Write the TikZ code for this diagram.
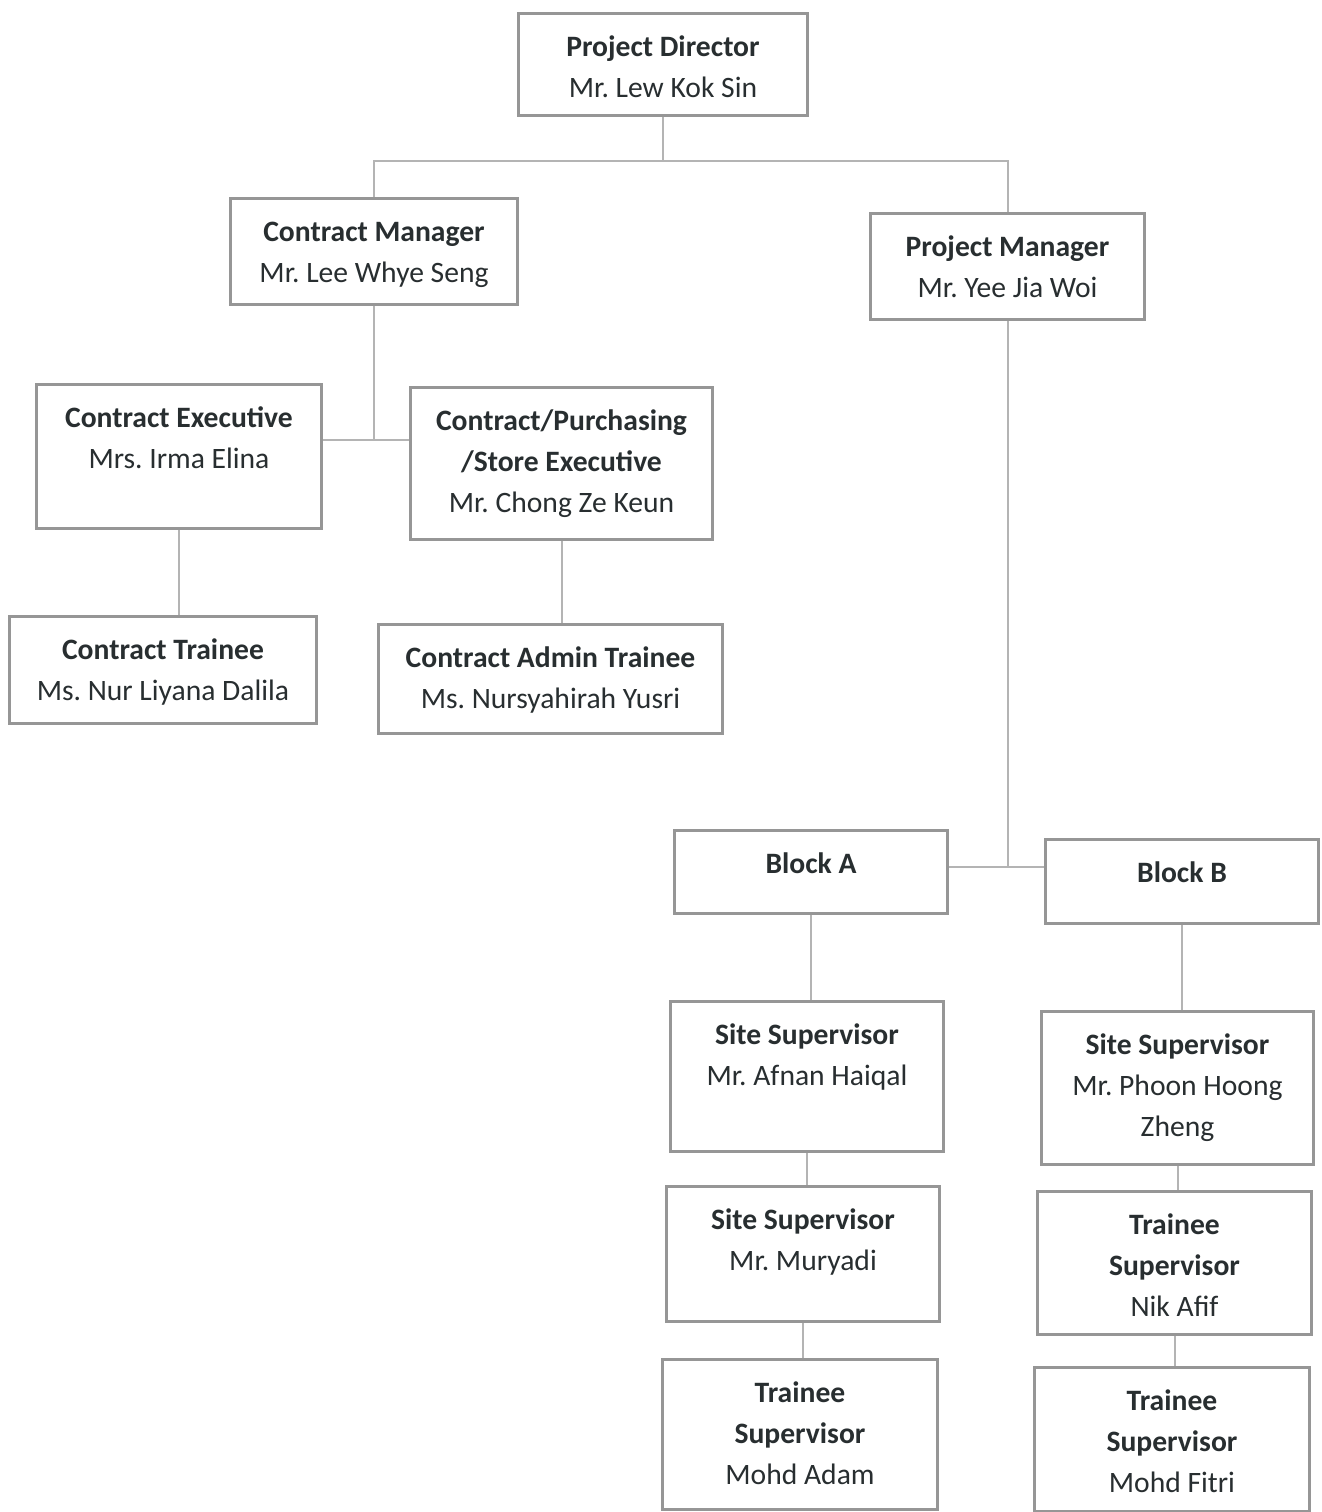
\documentclass[tikz,border=0pt]{standalone}
\usepackage{fontspec}
\setmainfont{Carlito}
\frenchspacing
\definecolor{txt}{RGB}{40,46,48}
\definecolor{bord}{RGB}{150,150,150}
\definecolor{conn}{RGB}{180,180,180}
\tikzset{
  obox/.style={draw=bord, line width=1.5pt, inner sep=0pt, anchor=north west, text=txt,
    font=\fontsize{14.8}{20.5}\selectfont\frenchspacing},
  link/.style={draw=conn, line width=1pt}
}
\newcommand\ob[6]{\node[obox] (#1) at (#2,#3) {\parbox[t][#5pt][t]{#4pt}{\centering\rule{0pt}{21.5pt}#6}};}
\begin{document}
\begin{tikzpicture}[x=0.5pt,y=-0.5pt]
\useasboundingbox[fill=white] (0,0) rectangle (1322,1512);
\ob{PD}{517}{12}{144.5}{51}{\textbf{Project Director}\\Mr. Lew Kok Sin}
\ob{CM}{229}{197}{143.5}{53}{\textbf{Contract Manager}\\Mr. Lee Whye Seng}
\ob{PM}{869}{212}{137}{53}{\textbf{Project Manager}\\Mr. Yee Jia Woi}
\ob{CE}{35}{383}{142.5}{72}{\textbf{Contract Executive}\\Mrs. Irma Elina}
\ob{CP}{409}{386}{151}{76}{\textbf{Contract/Purchasing}\\\textbf{/Store Executive}\\Mr. Chong Ze Keun}
\ob{CT}{8}{615}{153.5}{53.5}{\textbf{Contract Trainee}\\Ms. Nur Liyana Dalila}
\ob{CA}{377}{623}{172}{54.5}{\textbf{Contract Admin Trainee}\\Ms. Nursyahirah Yusri}
\ob{BA}{673}{829}{136.5}{41.5}{\textbf{Block A}}
\ob{BB}{1044}{838}{136.5}{42}{\textbf{Block B}}
\ob{A1}{669}{1000}{136.5}{75}{\textbf{Site Supervisor}\\Mr. Afnan Haiqal}
\ob{A2}{665}{1185}{136.5}{67.5}{\textbf{Site Supervisor}\\Mr. Muryadi}
\ob{A3}{661}{1358}{137.5}{75}{\textbf{Trainee}\\\textbf{Supervisor}\\Mohd Adam}
\ob{B1}{1040}{1010}{136}{76.5}{\textbf{Site Supervisor}\\Mr. Phoon Hoong\\Zheng}
\ob{B2}{1036}{1190}{137}{71.5}{\textbf{Trainee}\\\textbf{Supervisor}\\Nik Afif}
\ob{B3}{1033}{1366}{137.5}{72}{\textbf{Trainee}\\\textbf{Supervisor}\\Mohd Fitri}
\coordinate (j1) at (661,161);
\coordinate (j2) at (368,440);
\coordinate (j3) at (998,867);
\draw[link] (PD.south) -- (PD.south |- j1);
\draw[link] (CM.north) -- (CM.north |- j1) -- (PM.north |- j1) -- (PM.north);
\draw[link] (CM.south) -- (CM.south |- j2);
\draw[link] (CE.east |- j2) -- (CP.west |- j2);
\draw[link] (CE.south) -- (CE.south |- CT.north);
\draw[link] (CP.south) -- (CP.south |- CA.north);
\draw[link] (PM.south) -- (PM.south |- j3);
\draw[link] (BA.east |- j3) -- (BB.west |- j3);
\draw[link] (BA.south) -- (BA.south |- A1.north);
\draw[link] (A1.south) -- (A1.south |- A2.north);
\draw[link] (A2.south) -- (A2.south |- A3.north);
\draw[link] (BB.south) -- (BB.south |- B1.north);
\draw[link] (B1.south) -- (B1.south |- B2.north);
\draw[link] (B2.south) -- (B2.south |- B3.north);
\end{tikzpicture}
\end{document}
